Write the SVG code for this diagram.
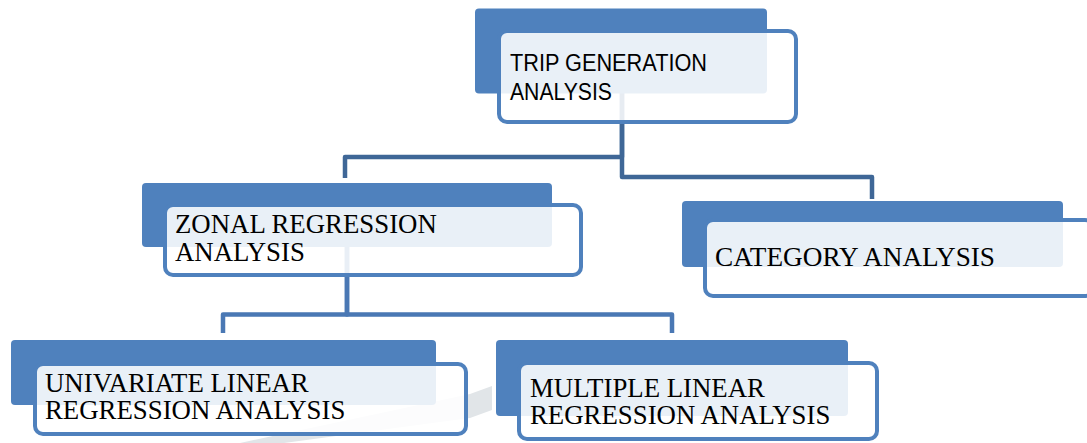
<svg xmlns="http://www.w3.org/2000/svg" width="1087" height="443" viewBox="0 0 1087 443">
<style>
.back{fill:#4F81BD}
.front{fill:#FFFFFF;fill-opacity:0.88;stroke:#4F81BD;stroke-width:4}
.c1{fill:none;stroke:#3F6797;stroke-width:4.5;stroke-linejoin:round}
.c2{fill:none;stroke:#4A78B4;stroke-width:4.5;stroke-linejoin:round}
.sans{font-family:"Liberation Sans","Open Sans",Arial,sans-serif;font-size:23.5px;fill:#000}
.serif{font-family:"Liberation Serif","Times New Roman",serif;font-size:26.8px;fill:#000}
</style>
<rect width="1087" height="443" fill="#FFFFFF"/>
<polygon points="240,443 284,443 470,418 492,410 492,386 470,394" fill="#E1E5E8"/>
<g id="connectors">
<path class="c1" d="M622,93 V157 H345 V178"/>
<path class="c1" d="M622,93 V177 H872 V199"/>
<path class="c2" d="M347,247 V314.5 H223 V333"/>
<path class="c2" d="M347,247 V314.5 H672 V333"/>
</g>
<g id="trip-generation">
<rect class="back" x="475" y="8.5" width="292" height="85" rx="4"/>
<rect class="front" x="499" y="31" width="297" height="91" rx="8"/>
<text class="sans" x="510" y="70.5" textLength="197" lengthAdjust="spacingAndGlyphs">TRIP GENERATION</text>
<text class="sans" x="510" y="100" textLength="102" lengthAdjust="spacingAndGlyphs">ANALYSIS</text>
</g>
<g id="zonal-regression">
<rect class="back" x="142" y="183" width="410" height="64" rx="4"/>
<rect class="front" x="165" y="205" width="416" height="70" rx="8"/>
<text class="serif" x="175" y="233">ZONAL REGRESSION</text>
<text class="serif" x="175" y="260.5">ANALYSIS</text>
</g>
<g id="category">
<rect class="back" x="682" y="201" width="381" height="66" rx="4"/>
<rect class="front" x="705" y="220" width="388" height="76" rx="8"/>
<text class="serif" x="715" y="266" textLength="280" lengthAdjust="spacingAndGlyphs">CATEGORY ANALYSIS</text>
</g>
<g id="univariate">
<rect class="back" x="11" y="340" width="425" height="65" rx="4"/>
<rect class="front" x="35" y="364" width="431" height="70" rx="8"/>
<text class="serif" x="45" y="391.5">UNIVARIATE LINEAR</text>
<text class="serif" x="45" y="419">REGRESSION ANALYSIS</text>
</g>
<g id="multiple">
<rect class="back" x="496" y="340" width="352" height="76" rx="4"/>
<rect class="front" x="519" y="363" width="358" height="76" rx="8"/>
<text class="serif" x="530" y="397">MULTIPLE LINEAR</text>
<text class="serif" x="530" y="424">REGRESSION ANALYSIS</text>
</g>
</svg>
